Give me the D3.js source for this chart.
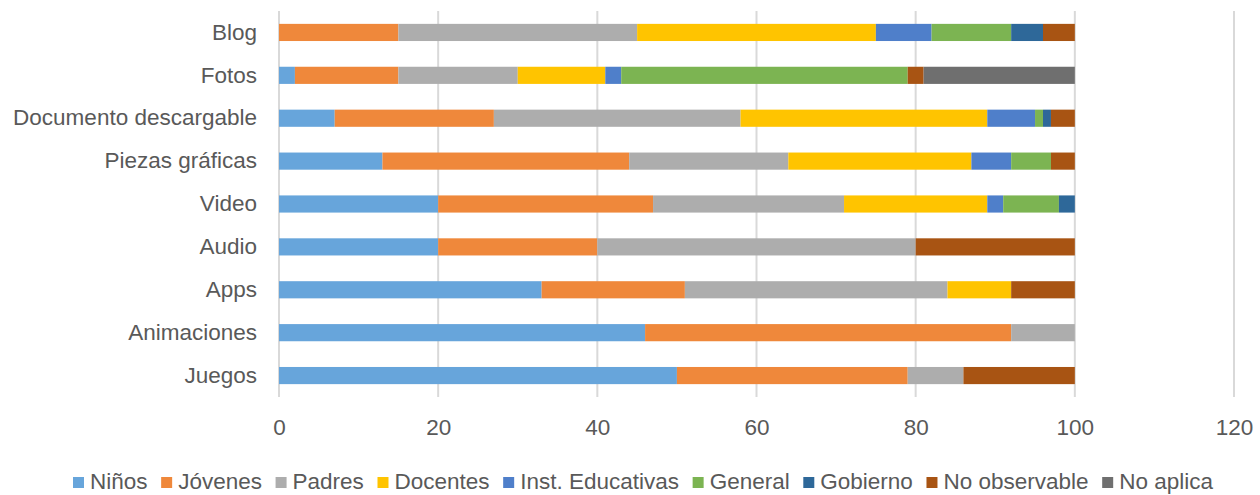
<!DOCTYPE html>
<html>
<head>
<meta charset="utf-8">
<script src="https://cdn.jsdelivr.net/npm/d3@7"></script>
<style>
  html, body { margin: 0; padding: 0; background: #fff; }
  svg { display: block; }
  text { font-family: "Liberation Sans", Arial, sans-serif; fill: #595959; }
</style>
</head>
<body>
<svg id="chart" width="1260" height="495"></svg>
<script>
// Content types (top to bottom)
const categories = ["Blog", "Fotos", "Documento descargable", "Piezas gráficas", "Video", "Audio", "Apps", "Animaciones", "Juegos"];

// Audience series, one value per content type (percent)
const seriesNames = ["Niños", "Jóvenes", "Padres", "Docentes", "Inst. Educativas", "General", "Gobierno", "No observable", "No aplica"];
const ninos        = [0,  2,  7, 13, 20, 20, 33, 46, 50];
const jovenes      = [15, 13, 20, 31, 27, 20, 18, 46, 29];
const padres       = [30, 15, 31, 20, 24, 40, 33,  8,  7];
const docentes     = [30, 11, 31, 23, 18,  0,  8,  0,  0];
const instEduc     = [7,  2,  6,  5,  2,  0,  0,  0,  0];
const general      = [10, 36, 1,  5,  7,  0,  0,  0,  0];
const gobierno     = [4,  0,  1,  0,  2,  0,  0,  0,  0];
const noObservable = [4,  2,  3,  3,  0, 20,  8,  0, 14];
const noAplica     = [0, 19,  0,  0,  0,  0,  0,  0,  0];

const xTicks = [0, 20, 40, 60, 80, 100, 120];

const seriesValues = [ninos, jovenes, padres, docentes, instEduc, general, gobierno, noObservable, noAplica];
const colors = ["#67a5db", "#ef883b", "#adadad", "#ffc400", "#4f7fca", "#7cb452", "#2e6899", "#a85413", "#6f6f6f"];

const FONT_SIZE = 22.5;
const svg = d3.select("#chart");

const x = d3.scaleLinear().domain([0, 120]).range([279, 1234]);
const y = d3.scaleBand().domain(categories).range([11, 397]).paddingInner(0.6).paddingOuter(0.3);

// Table rows for the stack layout
const rows = categories.map((c, i) => {
  const r = { cat: c };
  seriesNames.forEach((s, j) => { r[s] = seriesValues[j][i]; });
  return r;
});
const stacked = d3.stack().keys(seriesNames)(rows);

// Vertical gridlines
svg.append("g")
  .selectAll("line")
  .data(xTicks)
  .join("line")
  .attr("x1", d => x(d)).attr("x2", d => x(d))
  .attr("y1", 11).attr("y2", 397)
  .attr("stroke", "#d9d9d9")
  .attr("stroke-width", 2);

// Stacked bars
svg.append("g")
  .selectAll("g")
  .data(stacked)
  .join("g")
  .attr("fill", (d, i) => colors[i])
  .selectAll("rect")
  .data(d => d)
  .join("rect")
  .attr("x", d => x(d[0]))
  .attr("width", d => Math.max(0, x(d[1]) - x(d[0])))
  .attr("y", d => y(d.data.cat))
  .attr("height", y.bandwidth());

// Category axis labels
const yAxis = d3.axisLeft(y).tickSize(0).tickPadding(0);
const gy = svg.append("g").attr("transform", "translate(257,0)").call(yAxis);
gy.attr("font-family", null).attr("font-size", null);
gy.select(".domain").remove();
gy.selectAll("text").attr("font-size", FONT_SIZE).attr("fill", "#595959");

// Value axis labels
const xAxis = d3.axisBottom(x).tickValues(xTicks).tickSize(0).tickPadding(0);
const gx = svg.append("g").attr("transform", "translate(0,419)").call(xAxis);
gx.attr("font-family", null).attr("font-size", null);
gx.select(".domain").remove();
gx.selectAll("text").attr("font-size", FONT_SIZE).attr("dy", "0.71em").attr("fill", "#595959");

// Legend, spread across the bottom
const legend = svg.append("g");
const items = legend.selectAll("g").data(seriesNames).join("g");
items.append("rect").attr("width", 11).attr("height", 11).attr("y", 477).attr("fill", (d, i) => colors[i]);
items.append("text").attr("x", 17).attr("y", 489).attr("font-size", FONT_SIZE).text(d => d);
const widths = [];
items.each(function () {
  widths.push(17 + this.querySelector("text").getComputedTextLength());
});
const left = 73, right = 1213;
const gap = (right - left - d3.sum(widths)) / (widths.length - 1);
let cx = left;
items.attr("transform", (d, i) => {
  const t = `translate(${cx},0)`;
  cx += widths[i] + gap;
  return t;
});
</script>
</body>
</html>
